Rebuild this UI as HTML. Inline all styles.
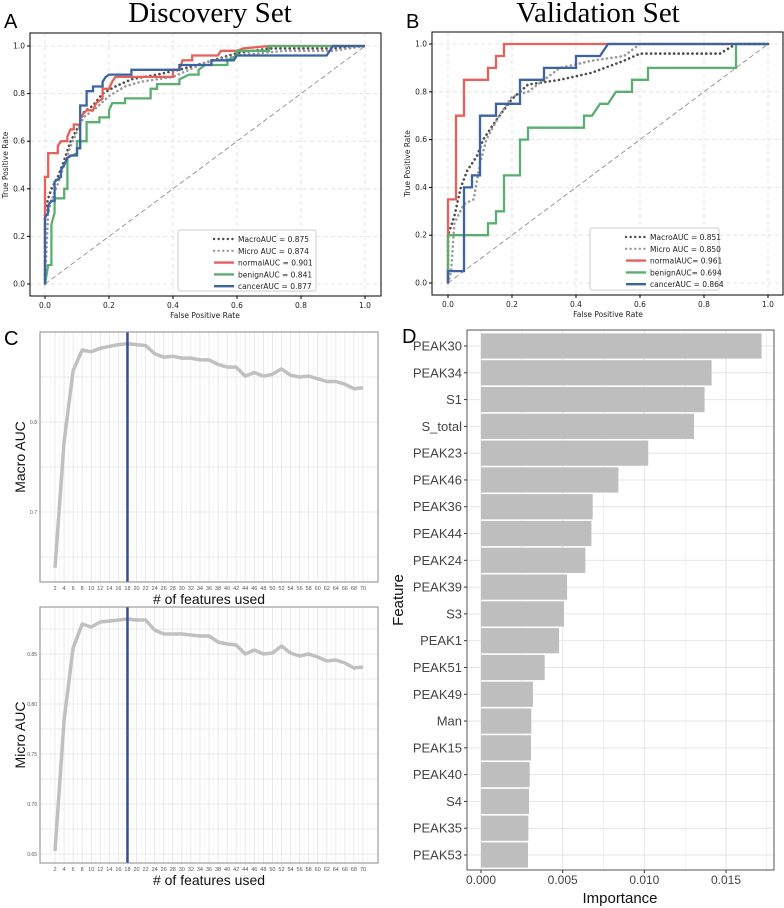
<!DOCTYPE html>
<html><head><meta charset="utf-8"><style>
body{margin:0;background:#fff}
svg{display:block}
</style></head><body>
<svg id="fig" width="784" height="908" viewBox="0 0 784 908" xmlns="http://www.w3.org/2000/svg" font-family="DejaVu Sans, Liberation Sans, sans-serif">
<g id="gA"></g>
<g id="gB"></g>
<g id="gC1"></g>
<g id="gC2"></g>
<g id="gD"></g>
</svg>
<script>
// ---------- ROC data ----------
const rocTicks = [0, 0.2, 0.4, 0.6, 0.8, 1.0];
const aMacro = [[0,0],[0,0.3],[0.01,0.36],[0.02,0.4],[0.04,0.45],[0.06,0.52],[0.08,0.6],[0.1,0.65],[0.12,0.72],[0.15,0.75],[0.18,0.8],[0.22,0.83],[0.27,0.86],[0.35,0.88],[0.42,0.9],[0.5,0.93],[0.6,0.97],[0.7,0.99],[0.9,0.99],[1,1]];
const aMicro = [[0,0],[0.01,0.3],[0.02,0.35],[0.04,0.42],[0.06,0.5],[0.08,0.58],[0.1,0.64],[0.12,0.7],[0.16,0.74],[0.2,0.79],[0.25,0.83],[0.3,0.85],[0.4,0.87],[0.5,0.93],[0.6,0.96],[0.75,0.98],[0.9,0.98],[1,1]];
const aNormal = [[0,0],[0,0.3],[0,0.45],[0.01,0.45],[0.01,0.55],[0.04,0.55],[0.04,0.58],[0.05,0.6],[0.07,0.6],[0.07,0.62],[0.08,0.65],[0.09,0.65],[0.09,0.67],[0.11,0.67],[0.11,0.7],[0.13,0.73],[0.15,0.73],[0.16,0.76],[0.18,0.78],[0.18,0.82],[0.2,0.82],[0.21,0.85],[0.22,0.87],[0.4,0.87],[0.4,0.9],[0.42,0.9],[0.43,0.94],[0.46,0.94],[0.46,0.96],[0.54,0.96],[0.55,0.98],[0.6,0.98],[0.62,0.99],[0.7,1],[1,1]];
const aBenign = [[0,0],[0.01,0.08],[0.02,0.08],[0.02,0.25],[0.03,0.3],[0.03,0.36],[0.06,0.36],[0.06,0.4],[0.07,0.4],[0.07,0.53],[0.1,0.55],[0.1,0.6],[0.13,0.6],[0.13,0.68],[0.17,0.68],[0.17,0.7],[0.2,0.7],[0.2,0.73],[0.21,0.76],[0.25,0.76],[0.25,0.78],[0.33,0.78],[0.33,0.82],[0.35,0.82],[0.35,0.84],[0.42,0.84],[0.42,0.86],[0.45,0.88],[0.48,0.88],[0.48,0.9],[0.5,0.92],[0.57,0.92],[0.57,0.94],[0.6,0.96],[0.6,0.98],[0.7,0.98],[0.7,1],[1,1]];
const aCancer = [[0,0],[0,0.28],[0.01,0.3],[0.01,0.33],[0.02,0.35],[0.03,0.35],[0.03,0.43],[0.05,0.45],[0.05,0.48],[0.06,0.5],[0.07,0.53],[0.08,0.54],[0.1,0.54],[0.1,0.57],[0.11,0.57],[0.11,0.75],[0.13,0.75],[0.13,0.81],[0.15,0.81],[0.15,0.83],[0.18,0.83],[0.18,0.85],[0.19,0.87],[0.2,0.88],[0.27,0.88],[0.27,0.9],[0.42,0.9],[0.42,0.92],[0.52,0.92],[0.52,0.94],[0.59,0.94],[0.6,0.96],[0.88,0.96],[0.9,1],[1,1]];
const bMacro = [[0,0],[0,0.2],[0.02,0.28],[0.04,0.4],[0.06,0.47],[0.09,0.53],[0.11,0.6],[0.15,0.68],[0.2,0.77],[0.25,0.83],[0.35,0.85],[0.45,0.88],[0.55,0.93],[0.6,0.96],[0.85,0.96],[0.9,1],[1,1]];
const bMicro = [[0,0],[0.01,0.05],[0.02,0.25],[0.05,0.33],[0.08,0.35],[0.1,0.5],[0.12,0.6],[0.16,0.7],[0.2,0.78],[0.25,0.8],[0.35,0.9],[0.45,0.93],[0.55,0.95],[0.6,1],[1,1]];
const bNormal = [[0,0],[0,0.35],[0.025,0.35],[0.025,0.7],[0.05,0.7],[0.05,0.85],[0.125,0.85],[0.125,0.9],[0.15,0.9],[0.15,0.95],[0.175,0.95],[0.175,1],[1,1]];
const bBenign = [[0,0],[0,0.2],[0.125,0.2],[0.125,0.25],[0.15,0.25],[0.15,0.3],[0.175,0.3],[0.175,0.45],[0.225,0.45],[0.225,0.6],[0.25,0.6],[0.25,0.65],[0.425,0.65],[0.425,0.7],[0.45,0.7],[0.475,0.75],[0.5,0.75],[0.525,0.8],[0.575,0.8],[0.575,0.85],[0.625,0.85],[0.625,0.9],[0.9,0.9],[0.9,1],[1,1]];
const bCancer = [[0,0],[0,0.05],[0.05,0.05],[0.05,0.4],[0.075,0.4],[0.075,0.45],[0.1,0.45],[0.1,0.7],[0.15,0.7],[0.15,0.75],[0.225,0.75],[0.225,0.85],[0.3,0.85],[0.3,0.9],[0.4,0.9],[0.4,0.95],[0.475,0.95],[0.5,1],[1,1]];
const aLegend = ["MacroAUC  = 0.875","Micro AUC  = 0.874","normalAUC = 0.901","benignAUC = 0.841","cancerAUC = 0.877"];
const bLegend = ["MacroAUC  = 0.851","Micro AUC  = 0.850","normalAUC= 0.961","benignAUC= 0.694","cancerAUC = 0.864"];

// ---------- Panel C data ----------
const nFeatures = [2,4,6,8,10,12,14,16,18,20,22,24,26,28,30,32,34,36,38,40,42,44,46,48,50,52,54,56,58,60,62,64,66,68,70];
const macroAuc = [0.638,0.778,0.857,0.880,0.878,0.882,0.884,0.886,0.887,0.886,0.885,0.876,0.872,0.873,0.871,0.871,0.869,0.869,0.864,0.861,0.861,0.851,0.855,0.851,0.853,0.859,0.852,0.850,0.851,0.848,0.845,0.845,0.842,0.837,0.838];
const microAuc = [0.653,0.784,0.856,0.880,0.877,0.882,0.883,0.884,0.885,0.884,0.884,0.874,0.870,0.870,0.870,0.869,0.868,0.868,0.862,0.860,0.859,0.850,0.854,0.850,0.851,0.858,0.851,0.848,0.850,0.847,0.843,0.844,0.841,0.836,0.837];
const macroTicks = [0.7, 0.8];
const microTicks = [0.65,0.70,0.75,0.80,0.85];
const bestN = 18;

// ---------- Panel D data ----------
const features = ["PEAK30","PEAK34","S1","S_total","PEAK23","PEAK46","PEAK36","PEAK44","PEAK24","PEAK39","S3","PEAK1","PEAK51","PEAK49","Man","PEAK15","PEAK40","S4","PEAK35","PEAK53"];
const importance = [0.01718,0.01412,0.01369,0.01304,0.01024,0.00841,0.00684,0.00676,0.00639,0.00527,0.00508,0.00478,0.00390,0.00318,0.00308,0.00306,0.00298,0.00294,0.00290,0.00288];
const impTicks = ["0.000","0.005","0.010","0.015"];

const NS="http://www.w3.org/2000/svg";
const SANS='"Liberation Sans", sans-serif';
function mk(parent, tag, attrs, txt){
  const e=document.createElementNS(NS,tag);
  for(const k in attrs) e.setAttribute(k,attrs[k]);
  if(txt!==undefined) e.textContent=txt;
  parent.appendChild(e); return e;
}

function roc(g, cfg){
  const {L,R,T,B,x0,x1,y0,y1,series,legend,title,letter,lx0,ly0,lx1,ly1,titleX} = cfg;
  const sx=v=>x0+(x1-x0)*v, sy=v=>y0+(y1-y0)*v;
  let t=mk(g,'text',{x:titleX,y:22,'font-size':29,'text-anchor':'middle','font-family':'"Liberation Serif", serif',fill:'#000'},title);
  
  
  t=mk(g,'text',{x:L-26,y:28,'font-size':20,fill:'#000','font-family':SANS},letter);
  
  
  rocTicks.forEach(v=>{
    let l=mk(g,'line',{x1:sx(v),x2:sx(v),y1:T,y2:B,stroke:'#ddd','stroke-dasharray':'4,3','stroke-width':0.8});
    
    
    l=mk(g,'line',{x1:L,x2:R,y1:sy(v),y2:sy(v),stroke:'#ddd','stroke-dasharray':'4,3','stroke-width':0.8});
    
    
    l=mk(g,'line',{x1:sx(v),x2:sx(v),y1:B,y2:B+3,stroke:'#000'});
    let tx=mk(g,'text',{x:sx(v),y:B+12,'font-size':7.5,'text-anchor':'middle',fill:'#222'},v.toFixed(1));
    
    
    l=mk(g,'line',{x1:L-3,x2:L,y1:sy(v),y2:sy(v),stroke:'#000'});
    tx=mk(g,'text',{x:L-5,y:sy(v)+2.5,'font-size':7.5,'text-anchor':'end',fill:'#222'},v.toFixed(1));
    
    
  });
  let d=mk(g,'line',{x1:sx(0),y1:sy(0),x2:sx(1),y2:sy(1),stroke:'#999','stroke-dasharray':'5,3','stroke-width':1});
  
  
  const names=['macro-curve','micro-curve','normal-curve','benign-curve','cancer-curve'];
  series.forEach((s,i)=>{
    const p=mk(g,'polyline',{points:s.data.map(q=>sx(q[0]).toFixed(1)+','+sy(q[1]).toFixed(1)).join(' '),fill:'none',stroke:s.color,'stroke-width':s.dash?2.6:2.3,'stroke-dasharray':s.dash||'none','stroke-linecap':s.dash?'round':'butt'});
    
    
  });
  let bx=mk(g,'rect',{x:L,y:T,width:R-L,height:B-T,fill:'none',stroke:'#000','stroke-width':1});
  
  
  const lg=mk(g,'g',{});
  
  
  mk(lg,'rect',{x:lx0,y:ly0,width:lx1-lx0,height:ly1-ly0,fill:'#fff','fill-opacity':0.85,stroke:'#ccc',rx:2});
  legend.forEach((s,i)=>{
    const yy=ly0+9+i*11.8;
    const e=mk(lg,'g',{});
    
    
    mk(e,'line',{x1:lx0+36,x2:lx0+56,y1:yy,y2:yy,stroke:series[i].color,'stroke-width':2.4,'stroke-dasharray':series[i].dash||'none','stroke-linecap':series[i].dash?'round':'butt'});
    mk(e,'text',{x:lx0+60,y:yy+3,'font-size':7.5,fill:'#222','xml:space':'preserve'},s);
  });
  t=mk(g,'text',{x:(x0+x1)/2,y:B+22,'font-size':7.5,'text-anchor':'middle',fill:'#222'},'False Positive Rate');
  
  
  t=mk(g,'text',{x:0,y:0,'font-size':7.5,'text-anchor':'middle',fill:'#222',transform:`translate(${L-22},${(y0+y1)/2}) rotate(-90)`},'True Positive Rate');
  
  
}
const cols={mac:'#4d4d4d',mic:'#9a9a9a',nor:'#e8605a',ben:'#5aae70',can:'#3b64a0'};
roc(document.getElementById('gA'),{L:30,R:381,T:33,B:296,x0:45,x1:365,y0:284,y1:46,title:'Discovery Set',titleX:210,letter:'A',
  lx0:178,ly0:230,lx1:316,ly1:291,legend:aLegend,
  series:[{data:aMacro,color:cols.mac,dash:'0.1,4.5'},{data:aMicro,color:cols.mic,dash:'0.1,4.5'},{data:aNormal,color:cols.nor},{data:aBenign,color:cols.ben},{data:aCancer,color:cols.can}]});
roc(document.getElementById('gB'),{L:432,R:783,T:32,B:295,x0:448,x1:768,y0:283,y1:44,title:'Validation Set',titleX:598,letter:'B',
  lx0:590,ly0:228,lx1:719,ly1:290,legend:bLegend,
  series:[{data:bMacro,color:cols.mac,dash:'0.1,4.5'},{data:bMicro,color:cols.mic,dash:'0.1,4.5'},{data:bNormal,color:cols.nor},{data:bBenign,color:cols.ben},{data:bCancer,color:cols.can}]});

function lineC(g,cfg){
  const {T,B,vals,ticks,yref,vref,k,label,letter,fmt}=cfg;
  const L=40,R=378;
  const sx=n=>55+(n-2)*(363-55)/68, sy=v=>yref-(v-vref)*k;
  if(letter){const t=mk(g,'text',{x:4,y:345,'font-size':20,fill:'#000','font-family':SANS},letter);
    
    }
  mk(g,'rect',{x:L,y:T,width:R-L,height:B-T,fill:'#fff'});
  for(let n=1;n<=71;n++){
    const x=sx(n); if(x<L||x>R) continue;
    const l=mk(g,'line',{x1:x,x2:x,y1:T,y2:B,stroke:n%2===0?'#e4e4e4':'#f0f0f0','stroke-width':n%2===0?0.8:0.5});
    
    
  }
  const step=ticks[1]-ticks[0];
  for(let v=ticks[0]-step;v<=ticks[ticks.length-1]+step+1e-9;v+=step/2){
    const y=sy(v); if(y<T||y>B) continue;
    const l=mk(g,'line',{x1:L,x2:R,y1:y,y2:y,stroke:'#e4e4e4','stroke-width':0.8});
    
    
  }
  ticks.forEach(v=>{
    const t=mk(g,'text',{x:L-3,y:sy(v)+2,'font-size':5,'text-anchor':'end',fill:'#555','font-family':SANS},v.toFixed(fmt));
    
    
  });
  nFeatures.forEach(n=>{
    const t=mk(g,'text',{x:sx(n),y:B+8,'font-size':5.5,'text-anchor':'middle',fill:'#555','font-family':SANS},String(n));
    
    
  });
  const p=mk(g,'polyline',{points:nFeatures.map((n,i)=>sx(n).toFixed(1)+','+sy(vals[i]).toFixed(1)).join(' '),fill:'none',stroke:'#c0c0c0','stroke-width':3.5,'stroke-linejoin':'round'});
  
  
  const v=mk(g,'line',{x1:sx(bestN),x2:sx(bestN),y1:T,y2:B,stroke:'#3c4a96','stroke-width':2.5});
  
  
  const f=mk(g,'rect',{x:L,y:T,width:R-L,height:B-T,fill:'none',stroke:'#888','stroke-width':1});
  
  
  let t=mk(g,'text',{x:(L+R)/2,y:B+22,'font-size':14,'text-anchor':'middle',fill:'#111','font-family':SANS},'# of features used');
  
  
  t=mk(g,'text',{x:0,y:0,'font-size':14,'text-anchor':'middle',fill:'#111','font-family':SANS,transform:`translate(${L-15},${(T+B)/2}) rotate(-90)`},label);
  
  
}
lineC(document.getElementById('gC1'),{T:332,B:582,vals:macroAuc,ticks:macroTicks,yref:422,vref:0.8,k:900,label:'Macro AUC',letter:'C',fmt:1});
lineC(document.getElementById('gC2'),{T:607,B:863,vals:microAuc,ticks:microTicks,yref:654,vref:0.85,k:1000,label:'Micro AUC',fmt:2});

(function(){
  const g=document.getElementById('gD');
  const L=467,R=774,T=330,B=870;
  const sx=v=>481+v*(726-481)/0.015;
  const sy=i=>346+i*(855-346)/19;
  let t=mk(g,'text',{x:402,y:343,'font-size':20,fill:'#000','font-family':SANS},'D');
  
  
  for(let v=0;v<=0.0176;v+=0.0025){
    const l=mk(g,'line',{x1:sx(v),x2:sx(v),y1:T,y2:B,stroke:'#e6e6e6','stroke-width':Math.round(v*10000)%50===0?1:0.6});
    
    
  }
  features.forEach((f,i)=>{
    const l=mk(g,'line',{x1:L,x2:R,y1:sy(i),y2:sy(i),stroke:'#e6e6e6','stroke-width':1});
    
    
  });
  features.forEach((f,i)=>{
    const r=mk(g,'rect',{x:sx(0),y:sy(i)-12.6,width:sx(importance[i])-sx(0),height:25.2,fill:'#bebebe'});
    
    
    mk(g,'line',{x1:L-3,x2:L,y1:sy(i),y2:sy(i),stroke:'#333'});
    const tx=mk(g,'text',{x:L-5,y:sy(i)+4.5,'font-size':13,'text-anchor':'end',fill:'#444','font-family':SANS},f);
    
    
  });
  impTicks.forEach(s=>{
    const v=parseFloat(s);
    mk(g,'line',{x1:sx(v),x2:sx(v),y1:B,y2:B+3,stroke:'#333'});
    const tx=mk(g,'text',{x:sx(v),y:B+14,'font-size':12,'text-anchor':'middle',fill:'#444','font-family':SANS},s);
    
    
  });
  const fr=mk(g,'rect',{x:L,y:T,width:R-L,height:B-T,fill:'none',stroke:'#555','stroke-width':1});
  
  
  t=mk(g,'text',{x:620,y:903,'font-size':15,'text-anchor':'middle',fill:'#111','font-family':SANS},'Importance');
  
  
  t=mk(g,'text',{x:0,y:0,'font-size':15,'text-anchor':'middle',fill:'#111','font-family':SANS,transform:'translate(403,600) rotate(-90)'},'Feature');
  
  
})();
</script>
</body></html>
